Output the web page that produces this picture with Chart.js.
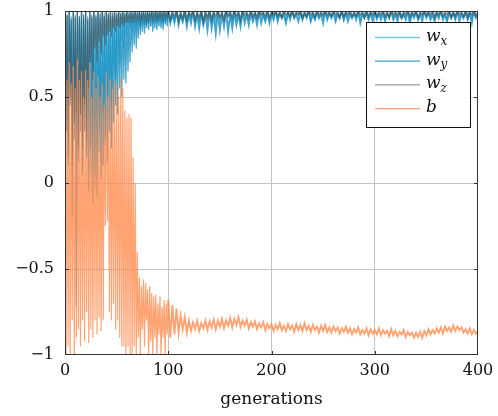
<!DOCTYPE html>
<html>
<head>
<meta charset="utf-8">
<script src="https://cdn.jsdelivr.net/npm/chart.js@4.4.1/dist/chart.umd.min.js"></script>
<style>
  html, body { margin: 0; padding: 0; background: #fff; }
</style>
</head>
<body>
<canvas id="chart" width="498" height="416"></canvas>
<script>
'use strict';

// generations: every generation up to 99, then every second one
const gens = [];
for (let g = 0; g < 100; g++) gens.push(g);
for (let g = 100; g <= 400; g += 2) gens.push(g);

const seriesLabels = ['w_x', 'w_y', 'w_z', 'b'];
const xTicks = [0, 100, 200, 300, 400];
const yTicks = [-1, -0.5, 0, 0.5, 1];

// values (upper / lower edge of the noisy band, alternating)
const wX = [
  1.0, 0.55, 0.98, 0.35, 1.0, 0.7, 0.95, 0.4, 1.0, 0.6, 0.97, 0.3, 1.0, 0.75, 0.96, 0.45, 1.0, 0.5, 0.98, 0.65,
  1.0, 0.2, 0.95, 0.4, 1.0, 0.05, 0.97, 0.25, 1.0, -0.03, 0.96, 0.15, 1.0, 0.3, 0.98, 0.12, 1.0, 0.4, 0.97, 0.22,
  1.0, 0.5, 0.98, 0.62, 1.0, 0.45, 0.99, 0.68, 1.0, 0.58, 0.99, 0.75, 1.0, 0.7, 0.99, 0.82, 1.0, 0.78, 0.99, 0.85,
  1.0, 0.86, 0.99, 0.9, 1.0, 0.88, 0.99, 0.91, 1.0, 0.89, 0.99, 0.92, 1.0, 0.9, 0.99, 0.93, 1.0, 0.91, 0.99, 0.92,
  1.0, 0.93, 0.99, 0.91, 1.0, 0.94, 0.99, 0.92, 1.0, 0.93, 0.99, 0.94, 1.0, 0.92, 0.99, 0.94, 1.0, 0.93, 0.99, 0.95,
  // from generation 100, step 2
  1.0, 0.95, 0.99, 0.93, 1.0, 0.96, 0.98, 0.94, 1.0, 0.95,
  0.99, 0.96, 1.0, 0.94, 0.98, 0.95, 1.0, 0.93, 0.99, 0.96,
  1.0, 0.95, 0.99, 0.94, 1.0, 0.96, 0.98, 0.95, 1.0, 0.97,
  0.99, 0.95, 1.0, 0.96, 0.99, 0.94, 1.0, 0.96, 0.98, 0.97,
  1.0, 0.95, 0.99, 0.96, 1.0, 0.97, 0.99, 0.95, 1.0, 0.96,
  0.99, 0.97, 1.0, 0.96, 0.98, 0.97, 1.0, 0.95, 0.99, 0.97,
  1.0, 0.96, 0.99, 0.98, 1.0, 0.96, 0.98, 0.97, 1.0, 0.95,
  0.99, 0.97, 1.0, 0.96, 0.99, 0.98, 1.0, 0.96, 0.98, 0.97,
  1.0, 0.96, 0.99, 0.97, 1.0, 0.95, 0.99, 0.97, 1.0, 0.96,
  0.98, 0.97, 1.0, 0.96, 0.99, 0.98, 1.0, 0.96, 0.99, 0.97,
  1.0, 0.95, 0.99, 0.97, 1.0, 0.96, 0.98, 0.97, 1.0, 0.96,
  0.99, 0.98, 1.0, 0.96, 0.99, 0.97, 1.0, 0.95, 0.98, 0.97,
  1.0, 0.96, 0.99, 0.97, 1.0, 0.98, 0.99, 0.96, 1.0, 0.97,
  0.99, 0.96, 1.0, 0.97, 0.98, 0.95, 1.0, 0.97, 0.99, 0.96,
  1.0, 0.97, 0.99, 0.96, 1.0, 0.98, 0.99, 0.96, 1.0, 0.97,
  0.99
];

const wY = [
  1.0, 0.3, 0.97, 0.1, 1.0, 0.45, 0.95, -0.2, 1.0, 0.35, 0.96, -0.72, 1.0, 0.2, 0.97, 0.4, 1.0, 0.05, 0.96, 0.3,
  1.0, 0.15, 0.95, -0.05, 1.0, 0.2, 0.96, -0.12, 1.0, 0.05, 0.97, -0.08, 1.0, 0.18, 0.96, 0.02, 1.0, 0.1, 0.97, 0.25,
  1.0, 0.12, 0.98, 0.3, 1.0, 0.2, 0.97, 0.35, 1.0, 0.45, 0.98, 0.4, 1.0, 0.55, 0.98, 0.5, 1.0, 0.6, 0.98, 0.58,
  1.0, 0.65, 0.98, 0.7, 1.0, 0.76, 0.99, 0.8, 1.0, 0.78, 0.99, 0.84, 1.0, 0.86, 0.99, 0.88, 1.0, 0.87, 0.99, 0.9,
  1.0, 0.89, 0.99, 0.91, 1.0, 0.88, 0.99, 0.9, 1.0, 0.89, 0.99, 0.91, 1.0, 0.9, 0.99, 0.89, 1.0, 0.92, 0.99, 0.91,
  0.99, 0.93, 0.98, 0.94, 1.0, 0.92, 0.98, 0.94, 0.99, 0.91,
  0.98, 0.93, 1.0, 0.91, 0.98, 0.90, 0.99, 0.92, 0.98, 0.89,
  1.0, 0.90, 0.98, 0.87, 0.99, 0.89, 0.98, 0.91, 1.0, 0.88,
  0.98, 0.90, 0.99, 0.92, 0.98, 0.91, 1.0, 0.93, 0.98, 0.92,
  0.99, 0.94, 0.98, 0.92, 1.0, 0.93, 0.98, 0.94, 0.99, 0.93,
  0.98, 0.95, 1.0, 0.94, 0.99, 0.96, 0.98, 0.93, 0.99, 0.95,
  1.0, 0.96, 0.98, 0.94, 0.99, 0.95, 0.99, 0.96, 1.0, 0.94,
  0.98, 0.95, 0.99, 0.96, 0.98, 0.93, 1.0, 0.95, 0.99, 0.96,
  0.99, 0.94, 0.98, 0.96, 1.0, 0.95, 0.99, 0.94, 0.98, 0.96,
  0.99, 0.95, 1.0, 0.93, 0.98, 0.96, 0.99, 0.95, 0.99, 0.94,
  1.0, 0.96, 0.98, 0.95, 0.99, 0.94, 0.99, 0.96, 1.0, 0.95,
  0.98, 0.94, 0.99, 0.96, 0.98, 0.95, 1.0, 0.93, 0.99, 0.96,
  0.99, 0.95, 0.98, 0.94, 1.0, 0.96, 0.99, 0.95, 0.98, 0.94,
  0.99, 0.96, 1.0, 0.95, 0.98, 0.94, 0.99, 0.96, 0.99, 0.95,
  1.0, 0.94, 0.98, 0.96, 0.99, 0.95, 0.99, 0.93, 1.0, 0.96,
  0.98
];

const wZ = [
  1.0, 0.3, 0.98, 0.15, 1.0, 0.5, 0.97, 0.1, 1.0, 0.25, 0.98, 0.4, 1.0, 0.12, 0.97, 0.3, 1.0, 0.2, 0.98, 0.45,
  1.0, 0.25, 0.97, 0.55, 1.0, 0.7, 0.98, 0.6, 1.0, 0.78, 0.98, 0.7, 1.0, 0.82, 0.99, 0.75, 1.0, 0.85, 0.99, 0.8,
  1.0, 0.86, 0.99, 0.88, 1.0, 0.85, 0.99, 0.9, 1.0, 0.88, 0.99, 0.91, 1.0, 0.9, 0.99, 0.92, 1.0, 0.91, 0.99, 0.93,
  1.0, 0.93, 0.99, 0.94, 1.0, 0.93, 0.99, 0.95, 1.0, 0.94, 0.99, 0.95, 1.0, 0.94, 0.99, 0.95, 1.0, 0.95, 0.99, 0.94,
  1.0, 0.95, 0.99, 0.96, 1.0, 0.95, 0.99, 0.96, 1.0, 0.95, 0.99, 0.96, 1.0, 0.96, 0.99, 0.95, 1.0, 0.96, 0.99, 0.96,
  1.0, 0.95, 0.99, 0.97, 1.0, 0.94, 0.99, 0.96, 1.0, 0.95,
  0.99, 0.97, 1.0, 0.95, 0.99, 0.96, 1.0, 0.94, 0.99, 0.96,
  1.0, 0.95, 0.99, 0.97, 1.0, 0.96, 0.99, 0.95, 1.0, 0.97,
  0.99, 0.96, 1.0, 0.97, 0.99, 0.95, 1.0, 0.98, 0.99, 0.96,
  1.0, 0.97, 0.99, 0.96, 1.0, 0.98, 0.99, 0.97, 1.0, 0.96,
  0.99, 0.98, 1.0, 0.97, 0.99, 0.96, 1.0, 0.98, 0.99, 0.97,
  1.0, 0.97, 0.99, 0.98, 1.0, 0.96, 0.99, 0.97, 1.0, 0.98,
  0.99, 0.96, 1.0, 0.98, 0.99, 0.97, 1.0, 0.98, 0.99, 0.97,
  1.0, 0.98, 0.99, 0.96, 1.0, 0.97, 0.99, 0.98, 1.0, 0.97,
  0.99, 0.97, 1.0, 0.98, 0.99, 0.96, 1.0, 0.97, 0.99, 0.98,
  1.0, 0.97, 0.99, 0.98, 1.0, 0.97, 0.99, 0.96, 1.0, 0.98,
  0.99, 0.97, 1.0, 0.96, 0.99, 0.98, 1.0, 0.97, 0.99, 0.98,
  1.0, 0.96, 0.99, 0.98, 1.0, 0.97, 0.99, 0.98, 1.0, 0.96,
  0.99, 0.98, 1.0, 0.97, 0.99, 0.98, 1.0, 0.96, 0.99, 0.97,
  1.0, 0.98, 0.99, 0.97, 1.0, 0.96, 0.99, 0.98, 1.0, 0.97,
  0.99
];

const bias = [
  0.62, -1.0, 0.6, -0.95, 0.70, -1.0, 0.58, -0.8, 0.68, -1.0,
  0.55, -0.9, 0.72, -0.85, 0.6, -0.95, 0.65, -0.8, 0.5, -0.92,
  0.66, -0.75, 0.6, -0.93, 0.7, -0.85, 0.5, -0.9, 0.65, -0.8,
  0.55, -0.88, 0.62, -0.78, 0.5, -0.86, 0.58, -0.8, 0.45, -0.25,
  0.65, -0.22, 0.5, -0.75, 0.6, -0.8, 0.55, -0.7, 0.6, -0.85,
  0.58, -0.8, 0.5, -0.9, 0.62, -0.95, 0.55, -0.95, 0.42, -1.0,
  0.38, -0.95, 0.4, -1.0, 0.38, -1.0, 0.15, -0.95, 0.0, -1.0,
  -0.4, -0.9, -0.55, -1.0, -0.6, -0.85, -0.56, -0.95, -0.58, -0.8,
  -0.62, -1.0, -0.6, -0.92, -0.64, -1.0, -0.66, -0.9, -0.65, -1.0,
  -0.7, -0.88, -0.66, -1.0, -0.72, -0.9, -0.68, -1.0, -0.7, -0.88,
  -0.68, -0.90, -0.71, -0.88, -0.73, -0.87, -0.77, -0.85, -0.78, -0.87,
  -0.80, -0.86, -0.81, -0.85, -0.80, -0.86, -0.815, -0.845, -0.80, -0.855,
  -0.805, -0.84, -0.795, -0.85, -0.80, -0.835, -0.79, -0.845, -0.80, -0.83,
  -0.785, -0.84, -0.79, -0.825, -0.78, -0.835, -0.80, -0.83, -0.795, -0.845,
  -0.81, -0.835, -0.805, -0.85, -0.815, -0.84, -0.81, -0.855, -0.82, -0.845,
  -0.82, -0.86, -0.825, -0.85, -0.815, -0.855, -0.83, -0.86, -0.82, -0.85,
  -0.83, -0.865, -0.82, -0.855, -0.825, -0.86, -0.815, -0.855, -0.83, -0.865,
  -0.825, -0.855, -0.835, -0.87, -0.83, -0.86, -0.825, -0.865, -0.84, -0.87,
  -0.835, -0.86, -0.84, -0.875, -0.845, -0.865, -0.835, -0.87, -0.845, -0.88,
  -0.85, -0.87, -0.84, -0.88, -0.855, -0.875, -0.845, -0.885, -0.85, -0.875,
  -0.855, -0.88, -0.845, -0.885, -0.855, -0.875, -0.86, -0.89, -0.85, -0.885,
  -0.86, -0.89, -0.865, -0.88, -0.855, -0.895, -0.865, -0.885, -0.87, -0.9,
  -0.87, -0.895, -0.865, -0.9, -0.86, -0.885, -0.85, -0.88, -0.855, -0.875,
  -0.845, -0.87, -0.84, -0.875, -0.835, -0.86, -0.84, -0.865, -0.83, -0.86,
  -0.835, -0.855, -0.84, -0.87, -0.85, -0.875, -0.845, -0.88, -0.855, -0.875,
  -0.86
];

const seriesValues = [wX, wY, wZ, bias];
const seriesColors = [
  'rgba(70, 190, 235, 0.8)',
  'rgba(20, 140, 190, 0.8)',
  'rgba(70, 70, 70, 0.55)',
  'rgba(255, 140, 80, 0.8)'
];

const serif = '"DejaVu Serif", "Liberation Serif", serif';
const gridGray = '#c4c4c4';
const axisColor = '#333';

function fmtTick(v) {
  return v < 0 ? '\u2212' + String(-v) : String(v);
}

// frame, inner tick marks and the boxed legend drawn on top of the data
const frameAndLegend = {
  id: 'frameAndLegend',
  afterDatasetsDraw(chart) {
    const { ctx, chartArea: a, scales } = chart;
    ctx.save();

    ctx.strokeStyle = axisColor;
    ctx.lineWidth = 1;
    ctx.beginPath();
    xTicks.slice(1, -1).forEach(v => {
      const px = Math.round(scales.x.getPixelForValue(v)) + 0.5;
      ctx.moveTo(px, a.bottom); ctx.lineTo(px, a.bottom - 4);
      ctx.moveTo(px, a.top); ctx.lineTo(px, a.top + 4);
    });
    yTicks.slice(1, -1).forEach(v => {
      const py = Math.round(scales.y.getPixelForValue(v)) + 0.5;
      ctx.moveTo(a.left, py); ctx.lineTo(a.left + 4, py);
      ctx.moveTo(a.right, py); ctx.lineTo(a.right - 4, py);
    });
    ctx.stroke();
    ctx.strokeRect(a.left + 0.5, a.top + 0.5, a.right - a.left - 1, a.bottom - a.top - 1);

    // legend
    const lx = a.right - 112, ly = a.top + 11, lw = 104, lh = 105;
    ctx.fillStyle = '#fff';
    ctx.fillRect(lx, ly, lw, lh);
    ctx.strokeStyle = '#111';
    ctx.strokeRect(lx + 0.5, ly + 0.5, lw, lh);

    chart.data.datasets.forEach((ds, i) => {
      const y = ly + 15.5 + i * 23.7;
      ctx.strokeStyle = ds.borderColor;
      ctx.lineWidth = 1.3;
      ctx.beginPath();
      ctx.moveTo(lx + 9, y); ctx.lineTo(lx + 54, y);
      ctx.stroke();

      const parts = ds.label.split('_');
      ctx.fillStyle = '#111';
      ctx.textBaseline = 'middle';
      ctx.font = 'italic 17px ' + serif;
      ctx.fillText(parts[0], lx + 60, y - 1);
      if (parts[1]) {
        const w = ctx.measureText(parts[0]).width;
        ctx.font = 'italic 12px ' + serif;
        ctx.fillText(parts[1], lx + 60 + w, y + 4);
      }
    });
    ctx.restore();
  }
};

const datasets = seriesLabels.map((label, i) => ({
  label: label,
  data: gens.map((g, k) => ({ x: g, y: seriesValues[i][k] })),
  borderColor: seriesColors[i],
  borderWidth: 1.2,
  // later generations are sampled every second step: a wider stroke keeps the band dense
  segment: { borderWidth: c => (c.p0.parsed.x >= 100 ? 1.9 : 1.2) },
  order: seriesLabels.length - i,
  pointRadius: 0,
  tension: 0,
  fill: false
}));

new Chart(document.getElementById('chart'), {
  type: 'line',
  data: { datasets: datasets },
  options: {
    responsive: false,
    animation: false,
    devicePixelRatio: 1,
    layout: { padding: { left: 0, right: 20, top: 11, bottom: 0 } },
    plugins: { legend: { display: false }, tooltip: { enabled: false } },
    scales: {
      x: {
        type: 'linear',
        min: 0, max: 400,
        afterFit: s => { s.height = 61; s.paddingLeft = 0; s.paddingRight = 0; },
        afterBuildTicks: s => { s.ticks = xTicks.map(v => ({ value: v })); },
        ticks: { color: '#111', padding: 6, maxRotation: 0, font: { family: serif, size: 16 }, callback: fmtTick },
        grid: {
          drawTicks: false,
          color: c => (c.tick && (c.tick.value === 0 || c.tick.value === 400)) ? 'rgba(0,0,0,0)' : gridGray
        },
        border: { display: false },
        title: { display: true, text: 'generations', color: '#111', font: { family: serif, size: 17 }, padding: { top: 6, bottom: 6 } }
      },
      y: {
        min: -1, max: 1,
        afterFit: s => { s.width = 65; s.paddingTop = 0; s.paddingBottom = 0; },
        afterBuildTicks: s => { s.ticks = yTicks.map(v => ({ value: v })); },
        ticks: { color: '#111', padding: 11, font: { family: serif, size: 16 }, callback: fmtTick },
        grid: {
          drawTicks: false,
          color: c => (c.tick && (c.tick.value === -1 || c.tick.value === 1)) ? 'rgba(0,0,0,0)' : gridGray
        },
        border: { display: false }
      }
    }
  },
  plugins: [frameAndLegend]
});
</script>
</body>
</html>
